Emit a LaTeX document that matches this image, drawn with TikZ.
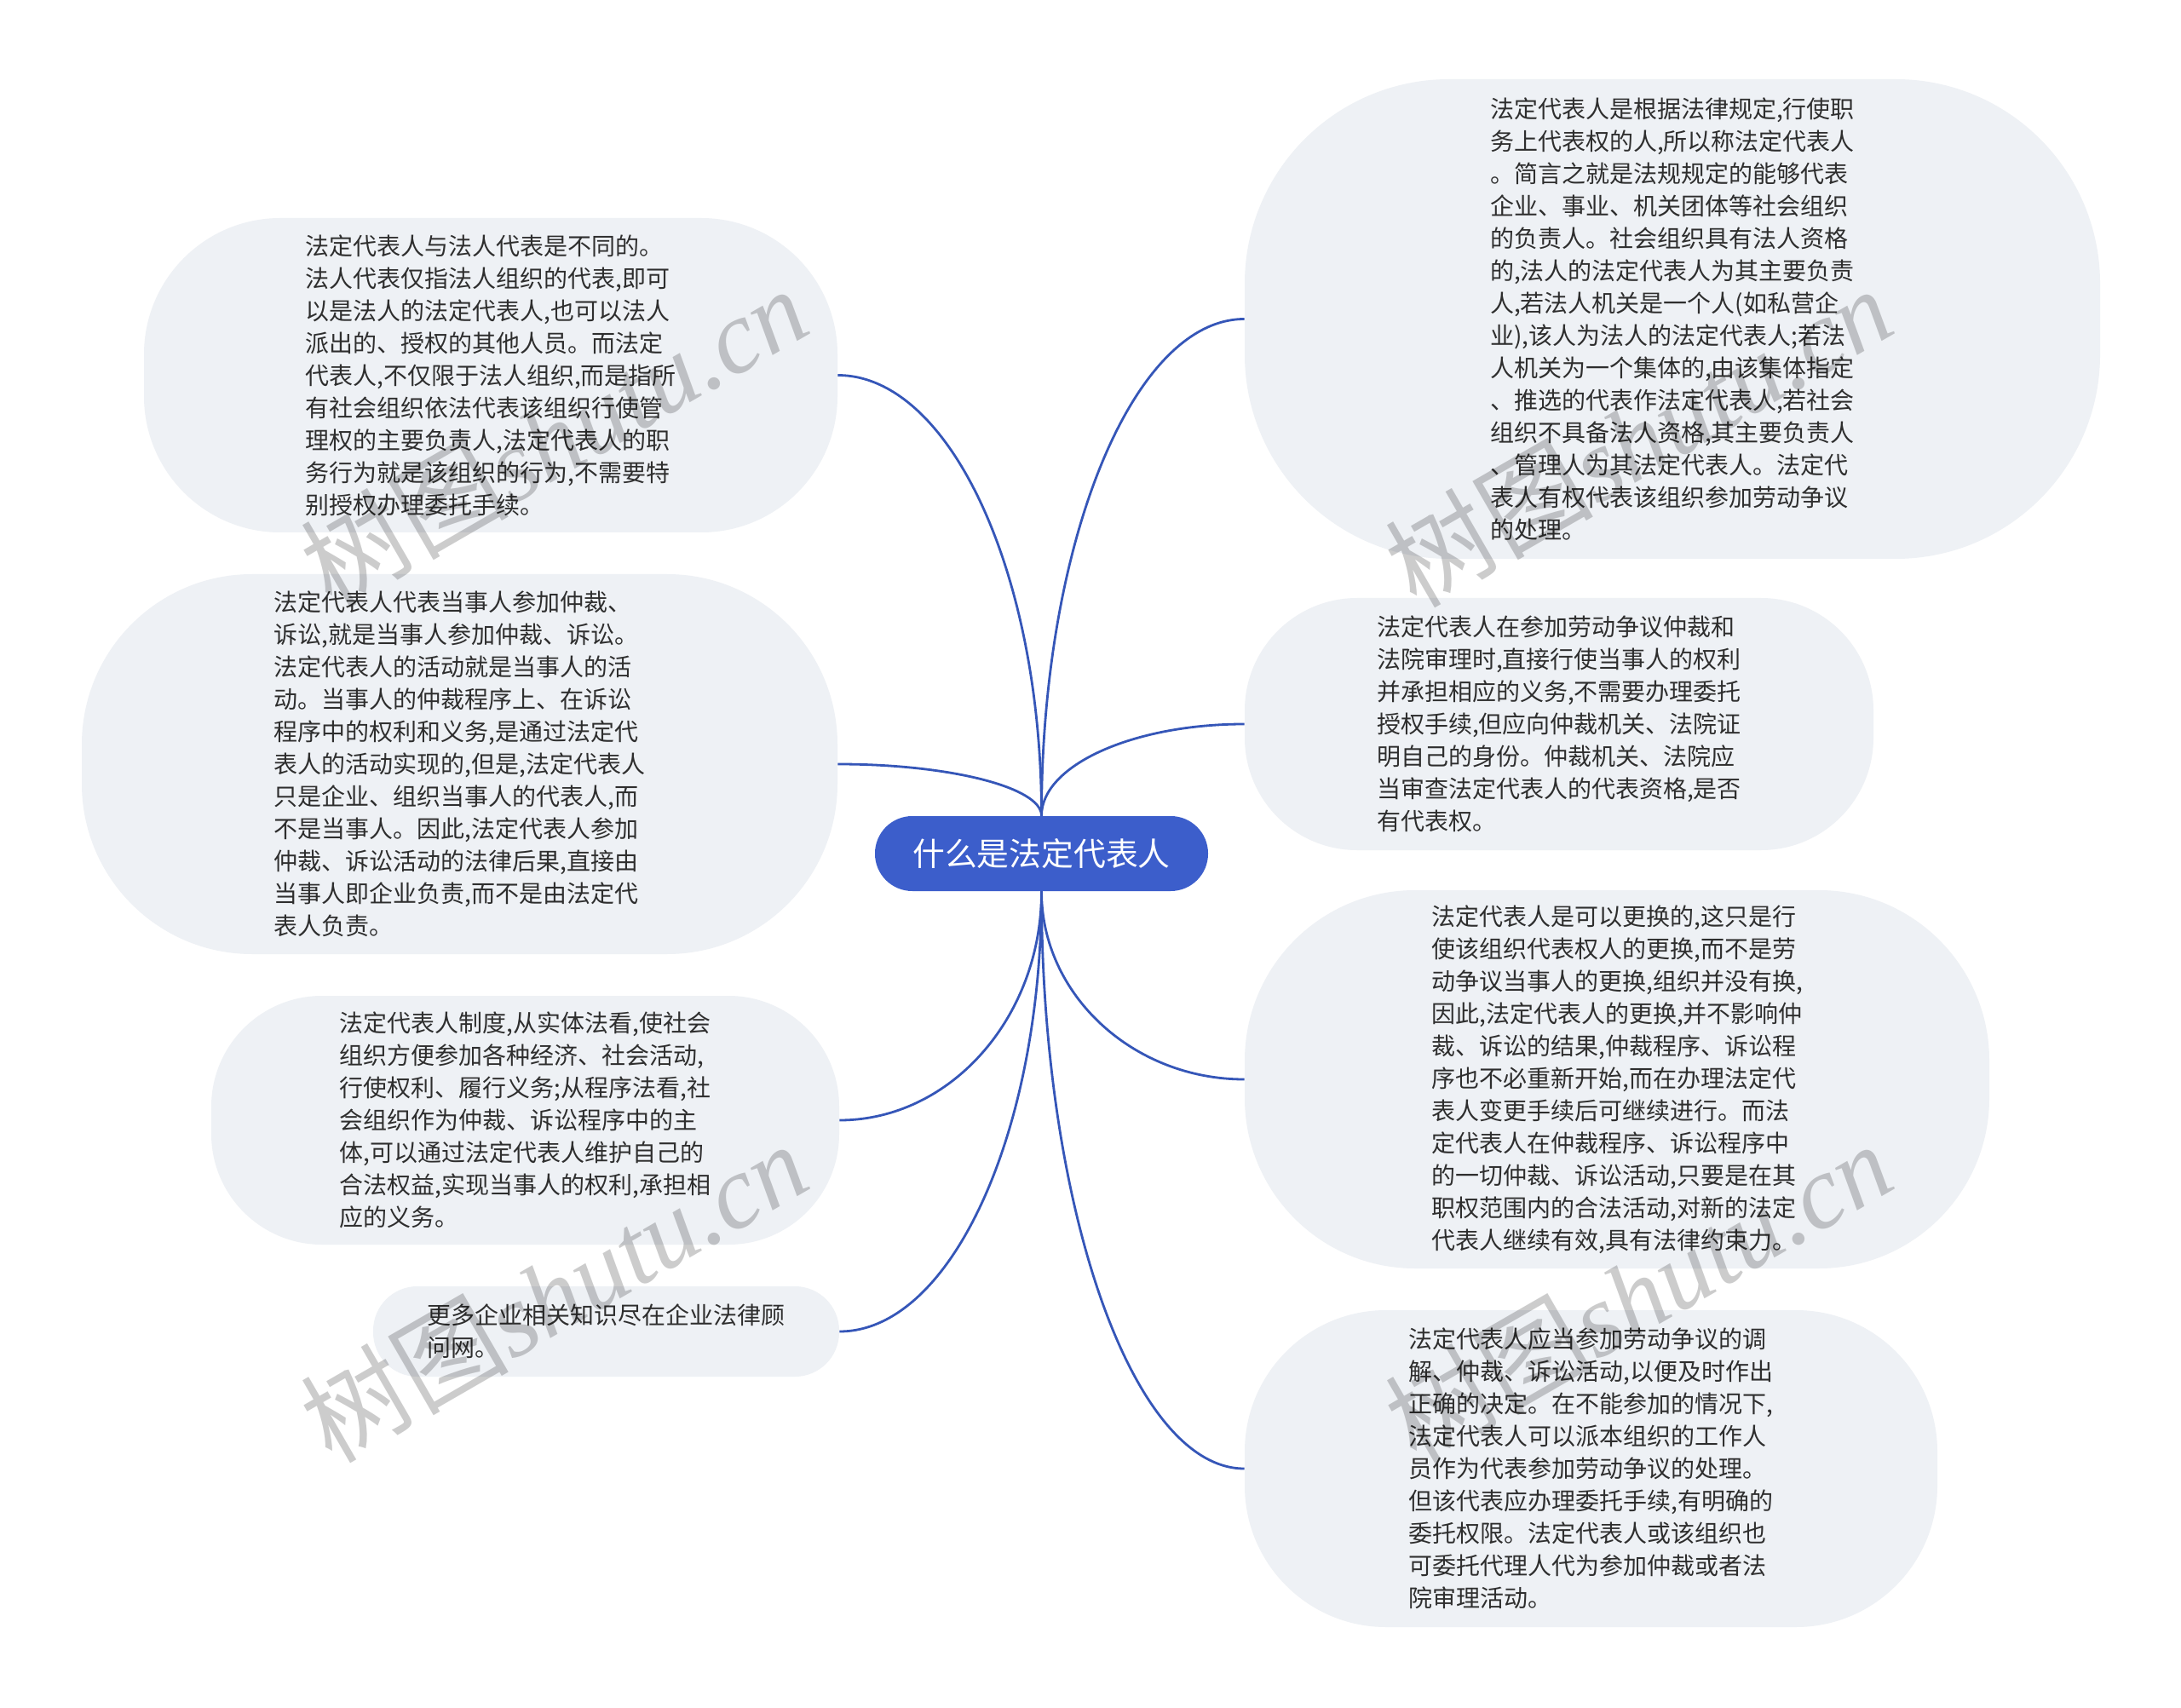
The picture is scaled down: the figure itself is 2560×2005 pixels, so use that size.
\documentclass[tikz,border=0pt]{standalone}
\usepackage{fontspec}
\newfontfamily\cjk{Noto Sans CJK SC}
\newfontfamily\wmserif{Liberation Serif}
\usetikzlibrary{calc}
\definecolor{bubble}{HTML}{EEF1F5}
\definecolor{linkblue}{HTML}{3556B8}
\definecolor{rootblue}{HTML}{3C5ECB}
\definecolor{txt}{HTML}{2E2E2E}
\tikzset{
  bubblebox/.style={fill=bubble, draw=none, inner sep=0pt, align=left, text=txt,
    font=\cjk\fontsize{14pt}{19pt}\selectfont},
  rootbox/.style={fill=rootblue, draw=none, inner sep=0pt, text=white,
    font=\cjk\fontsize{18.9pt}{22pt}\selectfont,
    minimum width=195.5pt, minimum height=44pt, rounded corners=21.9pt},
  link/.style={draw=linkblue, line width=1.4pt},
  wmark/.style={text=black, opacity=0.2, rotate=30, inner sep=0pt,
    font=\cjk\fontsize{61pt}{61pt}\selectfont}
}
\newcommand\mmlink[2]{\draw[link] (#1) .. controls ($(#1)!0.55!(#1 |- #2)$) and ($(#1 |- #2)!0.45!(#2)$) .. (#2);}
\begin{document}
\begin{tikzpicture}[x=0.5pt,y=-0.5pt]
\useasboundingbox (0,0) rectangle (2560,2005);
\fill[white] (0,0) rectangle (2560,2005);

% root
\node[rootbox] (C) at (1222.5,1002) {什么是法定代表人};

% left bubbles
\node[bubblebox, minimum width=407pt, minimum height=184.5pt, rounded corners=80pt] (L1) at (576,440.5) {%
法定代表人与法人代表是不同的。\\
法人代表仅指法人组织的代表,即可\\
以是法人的法定代表人,也可以法人\\
派出的、授权的其他人员。而法定\\
代表人,不仅限于法人组织,而是指所\\
有社会组织依法代表该组织行使管\\
理权的主要负责人,法定代表人的职\\
务行为就是该组织的行为,不需要特\\
别授权办理委托手续。};

\node[bubblebox, minimum width=443.5pt, minimum height=223pt, rounded corners=100pt] (L2) at (539.5,897) {%
法定代表人代表当事人参加仲裁、\\
诉讼,就是当事人参加仲裁、诉讼。\\
法定代表人的活动就是当事人的活\\
动。当事人的仲裁程序上、在诉讼\\
程序中的权利和义务,是通过法定代\\
表人的活动实现的,但是,法定代表人\\
只是企业、组织当事人的代表人,而\\
不是当事人。因此,法定代表人参加\\
仲裁、诉讼活动的法律后果,直接由\\
当事人即企业负责,而不是由法定代\\
表人负责。};

\node[bubblebox, minimum width=368.5pt, minimum height=146pt, rounded corners=65pt] (L3) at (616.5,1315) {%
法定代表人制度,从实体法看,使社会\\
组织方便参加各种经济、社会活动,\\
行使权利、履行义务;从程序法看,社\\
会组织作为仲裁、诉讼程序中的主\\
体,可以通过法定代表人维护自己的\\
合法权益,实现当事人的权利,承担相\\
应的义务。};

\node[bubblebox, minimum width=273.5pt, minimum height=53pt, rounded corners=26pt] (L4) at (711.5,1563) {%
更多企业相关知识尽在企业法律顾\\
问网。};

% right bubbles
\node[bubblebox, minimum width=502pt, minimum height=281.5pt, rounded corners=120pt] (R1) at (1963,374.5) {%
法定代表人是根据法律规定,行使职\\
务上代表权的人,所以称法定代表人\\
。简言之就是法规规定的能够代表\\
企业、事业、机关团体等社会组织\\
的负责人。社会组织具有法人资格\\
的,法人的法定代表人为其主要负责\\
人,若法人机关是一个人(如私营企\\
业),该人为法人的法定代表人;若法\\
人机关为一个集体的,由该集体指定\\
、推选的代表作法定代表人,若社会\\
组织不具备法人资格,其主要负责人\\
、管理人为其法定代表人。法定代\\
表人有权代表该组织参加劳动争议\\
的处理。};

\node[bubblebox, minimum width=369pt, minimum height=148pt, rounded corners=66pt] (R2) at (1830,850) {%
法定代表人在参加劳动争议仲裁和\\
法院审理时,直接行使当事人的权利\\
并承担相应的义务,不需要办理委托\\
授权手续,但应向仲裁机关、法院证\\
明自己的身份。仲裁机关、法院应\\
当审查法定代表人的代表资格,是否\\
有代表权。};

\node[bubblebox, minimum width=437pt, minimum height=222pt, rounded corners=100pt] (R3) at (1898,1267) {%
法定代表人是可以更换的,这只是行\\
使该组织代表权人的更换,而不是劳\\
动争议当事人的更换,组织并没有换,\\
因此,法定代表人的更换,并不影响仲\\
裁、诉讼的结果,仲裁程序、诉讼程\\
序也不必重新开始,而在办理法定代\\
表人变更手续后可继续进行。而法\\
定代表人在仲裁程序、诉讼程序中\\
的一切仲裁、诉讼活动,只要是在其\\
职权范围内的合法活动,对新的法定\\
代表人继续有效,具有法律约束力。};

\node[bubblebox, minimum width=406.5pt, minimum height=186pt, rounded corners=83pt] (R4) at (1867.5,1724) {%
法定代表人应当参加劳动争议的调\\
解、仲裁、诉讼活动,以便及时作出\\
正确的决定。在不能参加的情况下,\\
法定代表人可以派本组织的工作人\\
员作为代表参加劳动争议的处理。\\
但该代表应办理委托手续,有明确的\\
委托权限。法定代表人或该组织也\\
可委托代理人代为参加仲裁或者法\\
院审理活动。};

% connectors
\mmlink{C.north}{L1.east}
\mmlink{C.north}{L2.east}
\mmlink{C.south}{L3.east}
\mmlink{C.south}{L4.east}
\mmlink{C.north}{R1.west}
\mmlink{C.north}{R2.west}
\mmlink{C.south}{R3.west}
\mmlink{C.south}{R4.west}

% watermarks
\node[wmark] (W1) at (650,512) {树图{\wmserif\itshape shutu.cn}};
\node[wmark] (W2) at (1923,512) {树图{\wmserif\itshape shutu.cn}};
\node[wmark] (W3) at (650,1516) {树图{\wmserif\itshape shutu.cn}};
\node[wmark] (W4) at (1923,1516) {树图{\wmserif\itshape shutu.cn}};
\end{tikzpicture}
\end{document}
